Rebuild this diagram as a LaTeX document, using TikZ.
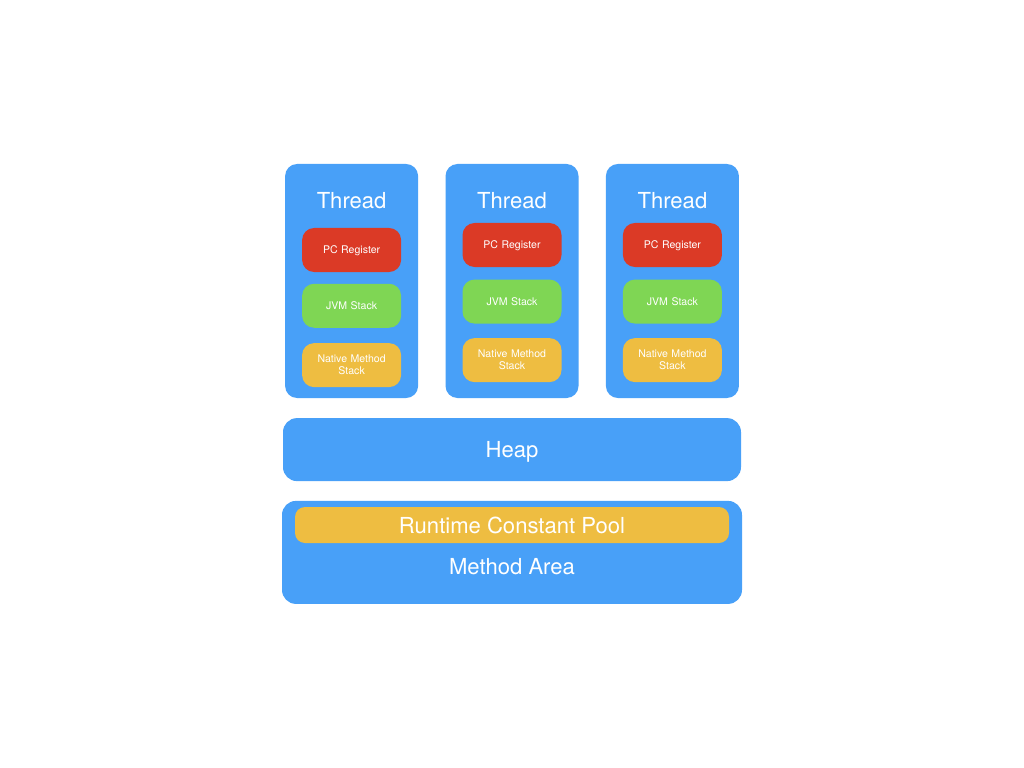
\documentclass[tikz,border=0pt]{standalone}
\usepackage{fontspec}
\setmainfont{TeX Gyre Heros}
\usetikzlibrary{positioning}
\definecolor{areablue}{HTML}{48A0F8}
\definecolor{pcred}{HTML}{DB3A26}
\definecolor{stackgreen}{HTML}{7FD654}
\definecolor{poolyellow}{HTML}{EEBD41}
\tikzstyle{thread} = [rectangle, fill=areablue, rounded corners=0.3cm,
    minimum width=3.325cm, minimum height=5.85cm]
\tikzstyle{part} = [rectangle, rounded corners=0.3cm, text=white, inner sep=0pt,
    font=\fontsize{7.5}{8.5}\selectfont, text width=2.4cm, align=center,
    minimum width=2.475cm, minimum height=1.1cm]
\tikzstyle{oneline} = [part, text depth=0pt]
\tikzstyle{title} = [text=white, text depth=0pt, font=\fontsize{15.7}{18}\selectfont]
\tikzstyle{area} = [rectangle, fill=areablue, rounded corners=0.35cm, text=white,
    text depth=0pt, font=\fontsize{15.7}{18}\selectfont, minimum width=11.45cm]

\begin{document}
\begin{tikzpicture}
    \useasboundingbox[fill=white] (0,0) rectangle (25.6,-19.2);
    % Place nodes
    \node [thread] (t1) at (8.79,-7.025) {};
    \node [title] (t1name) at (8.79,-5.0) {Thread};
    \node [oneline, fill=pcred] (t1pc) at (8.79,-6.25) {PC Register};
    \node [oneline, fill=stackgreen, below=0.28cm of t1pc] (t1jvm) {JVM Stack};
    \node [part, fill=poolyellow, below=0.37cm of t1jvm] (t1native) {Native Method\\Stack};

    \node [thread] (t2) at (12.8,-7.025) {};
    \node [title] (t2name) at (12.8,-5.0) {Thread};
    \node [oneline, fill=pcred] (t2pc) at (12.8,-6.125) {PC Register};
    \node [oneline, fill=stackgreen, below=0.3cm of t2pc] (t2jvm) {JVM Stack};
    \node [part, fill=poolyellow, below=0.35cm of t2jvm] (t2native) {Native Method\\Stack};

    \node [thread] (t3) at (16.81,-7.025) {};
    \node [title] (t3name) at (16.81,-5.0) {Thread};
    \node [oneline, fill=pcred] (t3pc) at (16.81,-6.125) {PC Register};
    \node [oneline, fill=stackgreen, below=0.3cm of t3pc] (t3jvm) {JVM Stack};
    \node [part, fill=poolyellow, below=0.35cm of t3jvm] (t3native) {Native Method\\Stack};

    % Shared areas
    \node [area, minimum height=1.575cm] (heap) at (12.8,-11.24) {Heap};
    \node [area, minimum width=11.5cm, minimum height=2.575cm] (method) at (12.8,-13.81) {};
    \node [area, fill=poolyellow, rounded corners=0.25cm, minimum width=10.85cm,
        minimum height=0.9cm] (pool) at (12.8,-13.125) {Runtime Constant Pool};
    \node [title] (methodname) at (12.8,-14.15) {Method Area};
\end{tikzpicture}
\end{document}
